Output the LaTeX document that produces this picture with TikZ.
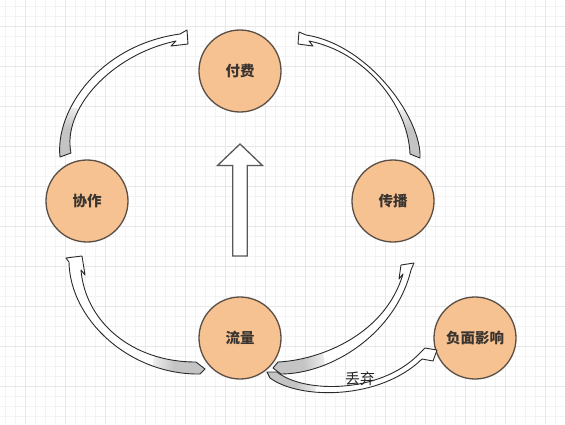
\documentclass[tikz,border=0pt]{standalone}
\usepackage{fontspec}
\newfontfamily\cjk{Noto Sans CJK SC}
\definecolor{peach}{HTML}{F7C291}
\definecolor{ringc}{HTML}{5A4E45}
\definecolor{txtc}{HTML}{3A3430}
\definecolor{tailgray}{HTML}{C4C4C4}
\definecolor{arrc}{HTML}{2A2A2A}
\definecolor{gmin}{HTML}{F3F3F3}
\definecolor{gmaj}{HTML}{E8E8E8}
\pgfdeclareradialshading{tailfade}{\pgfpoint{0bp}{0bp}}{color(0bp)=(tailgray); color(14bp)=(tailgray); color(30bp)=(white); color(50bp)=(white)}
\tikzset{
  circ/.style={circle, draw=ringc, line width=1.3pt, fill=peach, minimum size=82pt, inner sep=0pt,
               font=\cjk\bfseries\fontsize{14.5}{14.5}\selectfont, text=txtc},
  arrline/.style={draw=arrc, line width=0.9pt, line join=round},
  bigarr/.style={draw=black!65, line width=1.3pt, fill=white, line join=miter},
  gridminor/.style={draw=gmin, line width=0.5pt},
  gridmajor/.style={draw=gmaj, line width=0.7pt},
  lbl/.style={font=\cjk\fontsize{15}{15}\selectfont, text=black!85, inner sep=0pt}
}
\newcommand\sketcharrow[2]{%
  \fill[white] #2;
  \begin{scope}
    \clip #2;
    \shade[shading=tailfade] #1 circle (48);
  \end{scope}
  \draw[arrline] #2;
}
\begin{document}
\begin{tikzpicture}[x=1pt,y=-1pt]
\useasboundingbox (0,0) rectangle (565,424);
\fill[white] (0,0) rectangle (565,424);
% grid
\foreach \x in {5,15,...,565} \draw[gridminor] (\x,0) -- (\x,424);
\foreach \y in {6,16,...,424} \draw[gridminor] (0,\y) -- (565,\y);
\foreach \x in {25,65,...,565} \draw[gridmajor] (\x,0) -- (\x,424);
\foreach \y in {26,66,...,424} \draw[gridmajor] (0,\y) -- (565,\y);

% nodes
\node[circ] (pay) at (240,71) {付费};
\node[circ] (coop) at (87,201) {协作};
\node[circ] (spread) at (393,201) {传播};
\node[circ] (flow) at (240,338) {流量};
\node[circ] (neg) at (475,338) {负面影响};

% big up arrow
\draw[bigarr] (240,144) -- (262.5,165.5) -- (247.3,165.5) -- (247.3,256) -- (232.7,256) -- (232.7,165.5) -- (217.5,165.5) -- cycle;

% curved arrows
% coop -> pay
\sketcharrow{(65,155)}{(60,157) .. controls (55,110) and (100,45) .. (180,34) -- (187,30) -- (188,44) -- (171,46) -- (176,41) .. controls (110,55) and (62,110) .. (71,153) -- cycle}
% spread -> pay
\sketcharrow{(415,156)}{(420,158) .. controls (422,120) and (370,45) .. (306,35) -- (299,32) -- (298,44) -- (313,46) -- (309,41) .. controls (365,52) and (408,105) .. (410,154) -- cycle}
% flow -> coop
\sketcharrow{(201,368)}{(200,374) .. controls (130,375) and (70,320) .. (69,262) -- (66,258) -- (82,256) -- (85,275) -- (81,270) .. controls (85,320) and (130,362) .. (196,362) -- (205,369) -- cycle}
% flow -> spread
\sketcharrow{(277,368)}{(281,374) .. controls (330,374) and (395,335) .. (411,270) -- (414,263) -- (401,265) -- (399,279) -- (403,274) .. controls (385,335) and (320,360) .. (278,362) -- (273,368) -- cycle}
% flow -> neg (discard)
\sketcharrow{(270,375)}{(270,378) .. controls (300,400) and (380,400) .. (422,359) -- (433,361) -- (437,350) -- (425,348) -- (418,355) .. controls (380,393) and (305,394) .. (277,372) -- (267,372) -- cycle}
\node[lbl] (discard) at (360,378.5) {丢弃};
\end{tikzpicture}
\end{document}
